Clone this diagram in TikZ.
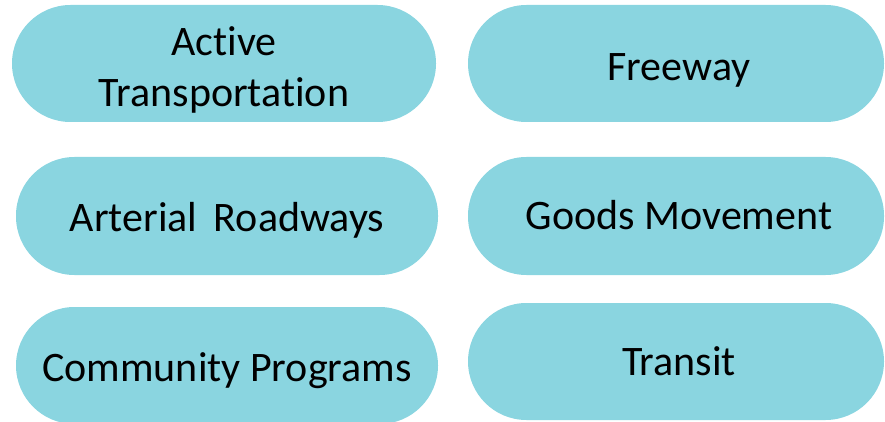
\documentclass[tikz,border=0pt]{standalone}
\usepackage{fontspec}
\setmainfont[Ligatures=NoCommon]{Carlito}
\definecolor{pill}{RGB}{138,213,224}
\begin{document}
\begin{tikzpicture}[x=1pt,y=-1pt,
  pillbox/.style={rectangle, fill=pill, draw=none, inner sep=0pt,
    minimum height=117pt, rounded corners=58.5pt, align=center,
    font=\fontsize{42}{51}\selectfont, text=black, text depth=0pt},
  rightpill/.style={pillbox, minimum width=416pt}]
\useasboundingbox (0,0) rectangle (885,422);
\node[pillbox, minimum width=424pt, text height=87pt] (active) at (224,63.5) {Active\\Transportation};
\node[rightpill, text height=35pt] (freeway) at (676,63.5) {\hspace*{6pt}Freeway};
\node[pillbox, minimum width=422pt, minimum height=118pt, text height=30pt] (arterial) at (227,216) {Arterial\, Roadways};
\node[rightpill, minimum height=118pt, text height=26pt] (goods) at (676,216) {\hspace*{6pt}Goods Movement};
\node[pillbox, minimum width=422pt, text height=31pt] (community) at (227,365.5) {Community Programs};
\node[rightpill, text height=27pt] (transit) at (676,361.5) {\hspace*{6pt}Transit};
\end{tikzpicture}
\end{document}
